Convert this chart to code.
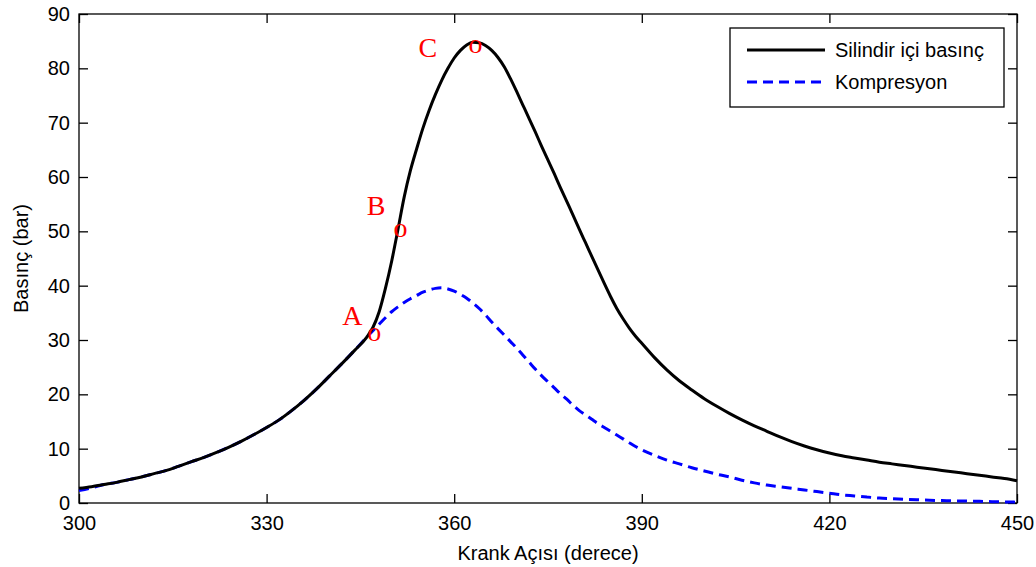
<!DOCTYPE html>
<html>
<head>
<meta charset="utf-8">
<script src="https://cdn.jsdelivr.net/npm/d3@7"></script>
<style>
  body { margin: 0; background: #fff; }
  svg { display: block; font-family: "Liberation Sans", Arial, sans-serif; }
  .tick text { font-size: 20px; fill: #000; }
  .axis-label { font-size: 20px; fill: #000; }
  .legend text { font-size: 20px; fill: #000; }
  .note { font-family: "Liberation Serif", "Times New Roman", serif; font-size: 28px; fill: #ff0000; }
</style>
</head>
<body>
<svg width="1036" height="567"></svg>
<script>
// krank acisi (derece)
const angles = [
  300, 302, 304, 306, 308, 310, 312, 314, 316, 318, 320, 322, 324, 326, 328, 330,
  332, 334, 336, 338, 340, 342, 344, 346,
  347, 348, 349, 350, 351, 352, 353, 354, 355, 356, 357, 358, 359, 360, 361, 362,
  363, 364, 365, 366, 367, 368, 369, 370, 371, 372, 373, 374, 375, 376, 377, 378,
  379, 380, 381, 382, 383, 384, 385, 386, 387, 388, 389, 390,
  392, 394, 396, 398, 400, 402, 404, 406, 408, 410, 412, 414, 416, 418, 420, 422,
  424, 426, 428, 430, 432, 434, 436, 438, 440, 442, 444, 446, 448, 450
];

// silindir ici basinc (bar)
const silindir = [
  2.7, 3.0, 3.4, 3.8, 4.3, 4.8, 5.4, 6.0, 6.8, 7.6, 8.4, 9.3, 10.3, 11.4, 12.6, 13.9,
  15.3, 17.0, 18.9, 21.0, 23.3, 25.6, 28.0, 30.5,
  32.3, 35.2, 39.5, 44.5, 50.3, 56.3, 61.2, 65.2, 69.0, 72.3, 75.2, 77.8, 80.0, 81.9, 83.3, 84.3,
  84.8, 84.7, 84.2, 83.3, 82.0, 80.3, 78.1, 75.7, 73.2, 70.7, 68.2, 65.6, 63.1, 60.6, 58.0, 55.5,
  53.0, 50.4, 47.9, 45.4, 42.9, 40.4, 38.0, 35.8, 33.9, 32.2, 30.7, 29.4,
  26.8, 24.5, 22.5, 20.8, 19.2, 17.8, 16.5, 15.3, 14.2, 13.2, 12.2, 11.3, 10.5, 9.8, 9.2, 8.7,
  8.3, 7.9, 7.5, 7.2, 6.9, 6.6, 6.3, 6.0, 5.7, 5.4, 5.1, 4.8, 4.5, 4.1
];

// kompresyon (bar)
const kompresyon = [
  2.3, 2.8, 3.4, 3.8, 4.3, 4.8, 5.4, 6.0, 6.8, 7.6, 8.4, 9.3, 10.3, 11.4, 12.6, 13.9,
  15.3, 17.0, 18.9, 21.0, 23.3, 25.6, 28.0, 30.5,
  31.7, 32.9, 34.1, 35.2, 36.1, 36.9, 37.6, 38.2, 38.8, 39.2, 39.5, 39.6, 39.4, 39.0, 38.4, 37.7,
  36.8, 35.8, 34.6, 33.3, 32.1, 30.9, 29.7, 28.5, 27.2, 25.9, 24.6, 23.4, 22.3, 21.2, 20.1, 19.1,
  18.0, 17.0, 16.2, 15.4, 14.6, 13.9, 13.2, 12.5, 11.8, 11.1, 10.4, 9.8,
  8.8, 7.9, 7.2, 6.5, 5.9, 5.3, 4.8, 4.2, 3.7, 3.3, 3.0, 2.7, 2.4, 2.1, 1.8, 1.5,
  1.3, 1.1, 0.9, 0.8, 0.7, 0.6, 0.5, 0.45, 0.4, 0.35, 0.3, 0.25, 0.2, 0.15
];

const xTicks = [300, 330, 360, 390, 420, 450];
const yTicks = [0, 10, 20, 30, 40, 50, 60, 70, 80, 90];

const seriesNames = ['Silindir içi basınç', 'Kompresyon'];

// A, B, C noktalari (yazi taban cizgisi, veri biriminde)
const noteText = ['A', 'o', 'B', 'o', 'C', 'o'];
const noteX = [343.7, 347.2, 347.5, 351.4, 355.8, 363.4];
const noteY = [32.7, 29.9, 53.0, 48.9, 82.1, 82.8];

const { select, scaleLinear, axisLeft, axisBottom, axisTop, axisRight, line, curveMonotoneX } = d3;

const svg = select('svg');
const width = +svg.attr('width');
const height = +svg.attr('height');

const margin = { top: 14, right: 19, bottom: 64, left: 79 };
const innerWidth = width - margin.left - margin.right;
const innerHeight = height - margin.top - margin.bottom;

const xScale = scaleLinear().domain([300, 450]).range([0, innerWidth]);
const yScale = scaleLinear().domain([0, 90]).range([innerHeight, 0]);

const g = svg.append('g')
  .attr('transform', `translate(${margin.left},${margin.top})`);

const tickLen = 9;

// eksenler: matlab gibi ice dogru tick
const xAxisG = g.append('g')
  .attr('transform', `translate(0,${innerHeight})`)
  .call(axisBottom(xScale).tickValues(xTicks).tickSize(-tickLen).tickPadding(13));
const yAxisG = g.append('g')
  .call(axisLeft(yScale).tickValues(yTicks).tickSize(-tickLen).tickPadding(9));
const topG = g.append('g')
  .call(axisTop(xScale).tickValues(xTicks).tickSize(-tickLen));
const rightG = g.append('g')
  .attr('transform', `translate(${innerWidth},0)`)
  .call(axisRight(yScale).tickValues(yTicks).tickSize(-tickLen));
topG.selectAll('.tick text').remove();
rightG.selectAll('.tick text').remove();

g.selectAll('.domain').remove();
g.selectAll('.tick line').attr('stroke', '#000').attr('stroke-width', 1.3);
g.selectAll('.tick text').attr('font-family', null).attr('font-size', null);

g.append('rect')
  .attr('width', innerWidth)
  .attr('height', innerHeight)
  .attr('fill', 'none')
  .attr('stroke', '#000')
  .attr('stroke-width', 1.3);

xAxisG.append('text')
  .attr('class', 'axis-label')
  .attr('x', innerWidth / 2)
  .attr('y', 57)
  .attr('text-anchor', 'middle')
  .text('Krank Açısı (derece)');

yAxisG.append('text')
  .attr('class', 'axis-label')
  .attr('transform', 'rotate(-90)')
  .attr('x', -innerHeight / 2)
  .attr('y', -51)
  .attr('text-anchor', 'middle')
  .text('Basınç (bar)');

const lineGen = values => line()
  .x((d, i) => xScale(angles[i]))
  .y(d => yScale(d))
  .curve(curveMonotoneX)(values);

g.append('path')
  .attr('d', lineGen(kompresyon))
  .attr('fill', 'none')
  .attr('stroke', '#0000ff')
  .attr('stroke-width', 3)
  .attr('stroke-dasharray', '10,6');

g.append('path')
  .attr('d', lineGen(silindir))
  .attr('fill', 'none')
  .attr('stroke', '#000')
  .attr('stroke-width', 3);

g.selectAll('text.note').data(noteText)
  .enter().append('text')
  .attr('class', 'note')
  .attr('x', (d, i) => xScale(noteX[i]))
  .attr('y', (d, i) => yScale(noteY[i]))
  .attr('text-anchor', 'middle')
  .text(d => d);

// legend
const legend = svg.append('g').attr('class', 'legend')
  .attr('transform', 'translate(730,28)');
legend.append('rect')
  .attr('width', 274)
  .attr('height', 79)
  .attr('fill', '#fff')
  .attr('stroke', '#000')
  .attr('stroke-width', 1.3);
const styles = [
  { color: '#000', dash: null },
  { color: '#0000ff', dash: '10,6' }
];
seriesNames.forEach((name, i) => {
  const yy = 22 + i * 32;
  legend.append('line')
    .attr('x1', 17).attr('x2', 95)
    .attr('y1', yy).attr('y2', yy)
    .attr('stroke', styles[i].color)
    .attr('stroke-width', 3)
    .attr('stroke-dasharray', styles[i].dash);
  legend.append('text')
    .attr('x', 105)
    .attr('y', yy + 7)
    .text(name);
});
</script>
</body>
</html>
